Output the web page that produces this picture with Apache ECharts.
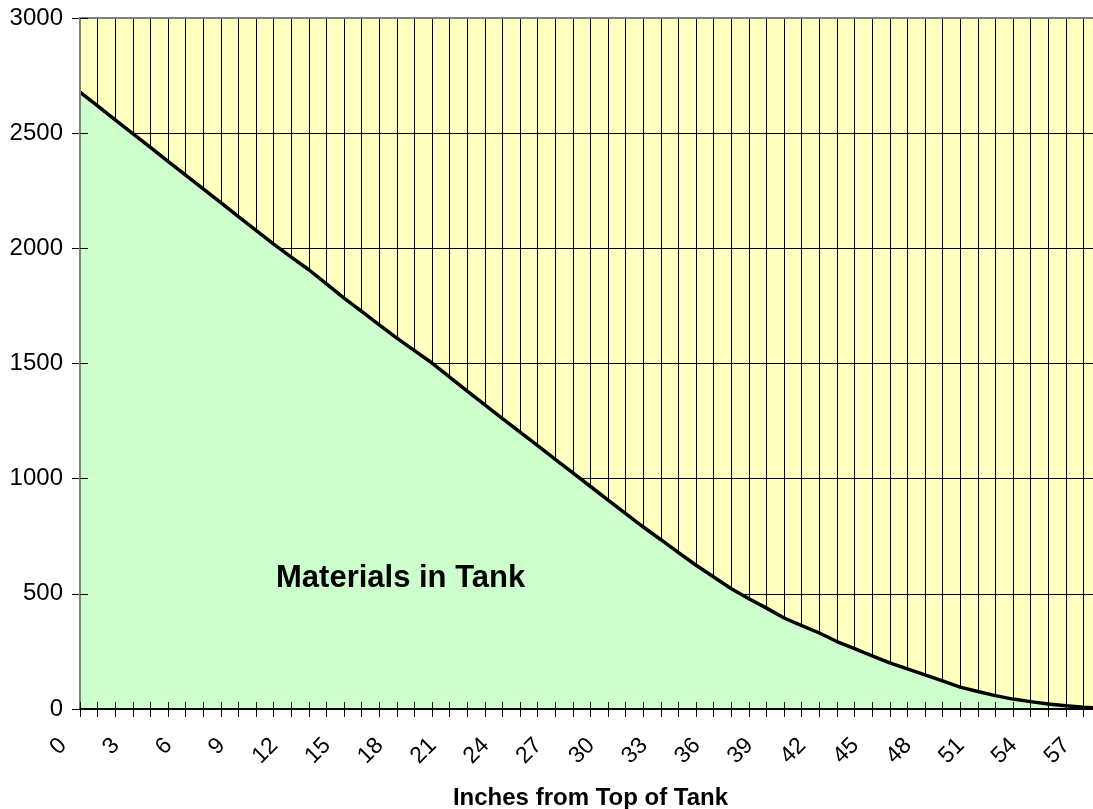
<!DOCTYPE html>
<html>
<head>
<meta charset="utf-8">
<script src="https://cdn.jsdelivr.net/npm/echarts@6/dist/echarts.min.js"></script>
<style>
  html, body { margin: 0; padding: 0; background: #fff; }
  #chart { width: 1093px; height: 809px; }
</style>
</head>
<body>
<div id="chart"></div>
<script>
// inches measured down from the top of the tank
var inches = ['0','1','2','3','4','5','6','7','8','9','10','11','12','13','14','15','16','17','18','19',
  '20','21','22','23','24','25','26','27','28','29','30','31','32','33','34','35','36','37','38','39',
  '40','41','42','43','44','45','46','47','48','49','50','51','52','53','54','55','56','57','58'];

// material left in the tank at each depth
var contents = [2678, 2618, 2558, 2498, 2438, 2378, 2318, 2258, 2198, 2138,
  2078, 2018, 1962, 1907, 1846, 1784, 1726, 1668, 1610, 1556,
  1502, 1441, 1380, 1320, 1261, 1202, 1143, 1084, 1025, 966,
  907, 848, 790, 735, 679, 624, 573, 522, 479, 438,
  395, 362, 330, 293, 262, 231, 200, 174, 148, 122,
  95, 76, 58, 43, 32, 22, 14, 8, 3];

var yTicks = { min: 0, max: 3000, step: 500 };
var xTitle = 'Inches from Top of Tank';
var areaText = 'Materials in Tank';

var font = '"Liberation Sans", Arial, sans-serif';
var chart = echarts.init(document.getElementById('chart'), null, { renderer: 'canvas' });

// both grids share one rect; grid 1 only carries the inner half of the cross ticks.
// the plot runs a little past the right edge of the page, as in the original.
var plotRect = { left: 80, top: 18, width: 1021, height: 691, outerBoundsMode: 'none', containLabel: false };

var option = {
  animation: false,
  backgroundColor: '#fff',
  grid: [
    Object.assign({ show: true, backgroundColor: '#FFFFC0', borderWidth: 0 }, plotRect),
    Object.assign({ show: false }, plotRect)
  ],
  xAxis: [{
    gridIndex: 0,
    type: 'category',
    data: inches,
    boundaryGap: false,
    axisLine: { show: false, onZero: false },
    axisTick: { show: true, interval: 0, length: 8, lineStyle: { color: '#000', width: 1 } },
    axisLabel: {
      interval: 2,
      rotate: 45,
      margin: 16,
      padding: [0, 24, 0, 0],
      fontSize: 23,
      fontFamily: font,
      color: '#000'
    },
    splitLine: { show: true, interval: 0, lineStyle: { color: '#000', width: 1 } },
    name: xTitle,
    nameLocation: 'middle',
    nameGap: 77,
    nameTextStyle: { fontSize: 24, fontWeight: 'bold', fontFamily: font, color: '#000' }
  }, {
    gridIndex: 1,
    type: 'category',
    data: inches,
    boundaryGap: false,
    z: 5,
    axisLine: { show: true, onZero: false, lineStyle: { color: '#000', width: 2 } },
    axisTick: { show: true, inside: true, interval: 0, length: 7, lineStyle: { color: '#000', width: 1 } },
    axisLabel: { show: false },
    splitLine: { show: false }
  }, {
    gridIndex: 1,
    type: 'category',
    position: 'top',
    data: inches,
    boundaryGap: false,
    z: 5,
    axisLine: { show: true, onZero: false, lineStyle: { color: '#808080', width: 2 } },
    axisTick: { show: false },
    axisLabel: { show: false },
    splitLine: { show: false }
  }],
  yAxis: [{
    gridIndex: 0,
    type: 'value',
    min: yTicks.min,
    max: yTicks.max,
    interval: yTicks.step,
    axisLine: { show: false },
    axisTick: { show: true, length: 8, lineStyle: { color: '#000', width: 1 } },
    axisLabel: {
      margin: 17,
      fontSize: 24,
      fontFamily: font,
      color: '#000',
      formatter: function (v) { return String(v); }
    },
    splitLine: { show: true, lineStyle: { color: '#000', width: 1 } }
  }, {
    gridIndex: 1,
    type: 'value',
    min: yTicks.min,
    max: yTicks.max,
    interval: yTicks.step,
    z: 5,
    axisLine: { show: true, onZero: false, lineStyle: { color: '#808080', width: 2 } },
    axisTick: { show: true, inside: true, length: 8, lineStyle: { color: '#000', width: 1 } },
    axisLabel: { show: false },
    splitLine: { show: false }
  }],
  series: [{
    type: 'line',
    xAxisIndex: 0,
    yAxisIndex: 0,
    data: contents,
    symbol: 'none',
    smooth: false,
    lineStyle: { color: '#000', width: 3.5 },
    areaStyle: { color: '#CCFFCC', opacity: 1 },
    z: 2
  }],
  graphic: [{
    type: 'text',
    x: 276,
    y: 578,
    z: 10,
    style: {
      text: areaText,
      font: 'bold 31px ' + font,
      fill: '#000',
      textAlign: 'left',
      textVerticalAlign: 'middle'
    }
  }]
};

chart.setOption(option);
</script>
</body>
</html>
